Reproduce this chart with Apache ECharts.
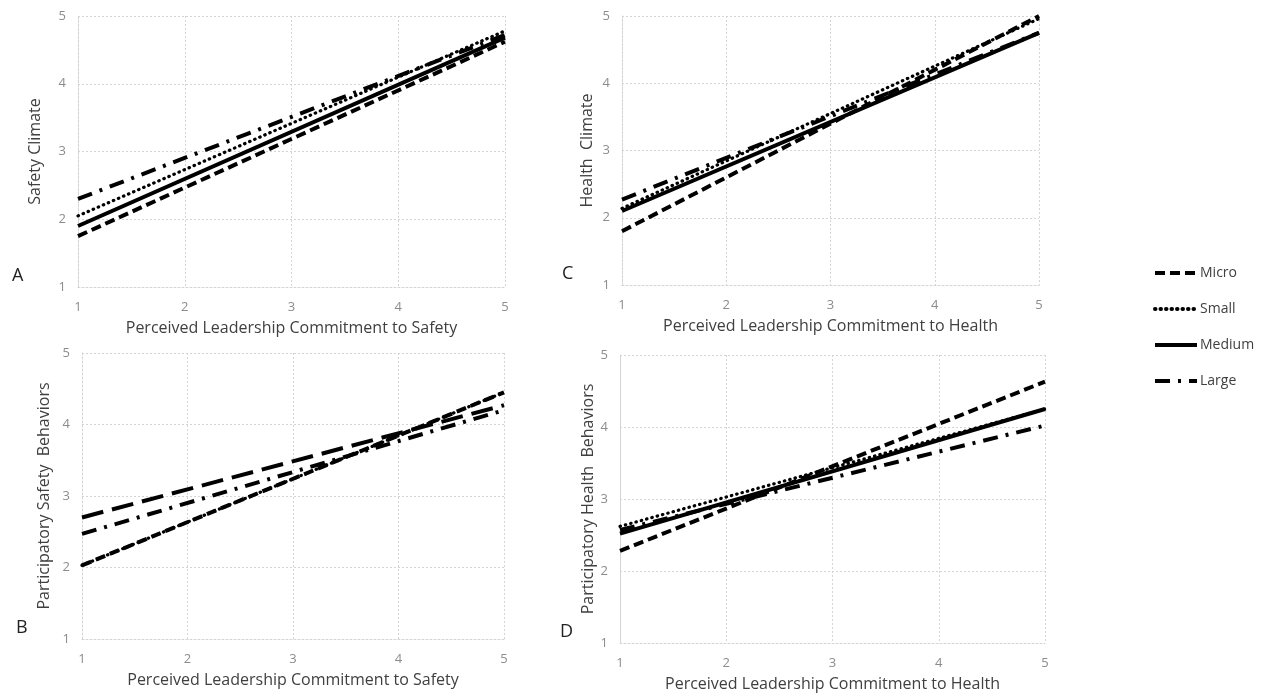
<!DOCTYPE html>
<html><head><meta charset="utf-8">
<script src="https://cdn.jsdelivr.net/npm/echarts@6/dist/echarts.min.js"></script>
<style>html,body{margin:0;padding:0;background:#fff}#c{width:1268px;height:696px}</style>
</head><body><div id="c"></div>
<script>
// x positions of each fitted line (low / high leadership commitment)
const xs = [1, 5];
const sizes = ['Micro', 'Small', 'Medium', 'Large'];
const ticks = [1, 2, 3, 4, 5];

// Panel A: Safety Climate
const A_micro = [1.75, 4.62];
const A_small = [2.05, 4.78];
const A_medium = [1.9, 4.68];
const A_large = [2.3, 4.72];
// Panel B: Participatory Safety Behaviors
const B_micro = [2.03, 4.45];
const B_small = [2.03, 4.45];
const B_medium = [2.7, 4.27];
const B_large = [2.47, 4.2];
// Panel C: Health Climate
const C_micro = [1.8, 5.0];
const C_small = [2.14, 4.96];
const C_medium = [2.1, 4.75];
const C_large = [2.27, 4.75];
// Panel D: Participatory Health Behaviors
const D_micro = [2.28, 4.63];
const D_small = [2.62, 4.25];
const D_medium = [2.52, 4.25];
const D_large = [2.57, 4.02];

const panels = [
  {letter:'A', yName:'Safety Climate', xName:'Perceived Leadership Commitment to Safety', data:[A_micro,A_small,A_medium,A_large],
   grid:{left:78, top:16, width:427, height:271}, yGap:35},
  {letter:'C', yName:'Health  Climate', xName:'Perceived Leadership Commitment to Health', data:[C_micro,C_small,C_medium,C_large],
   grid:{left:622, top:16, width:417, height:269}, yGap:27},
  {letter:'B', yName:'Participatory Safety  Behaviors', xName:'Perceived Leadership Commitment to Safety', data:[B_micro,B_small,B_medium,B_large],
   grid:{left:82, top:353, width:422, height:286}, yGap:30, mediumDash:true},
  {letter:'D', yName:'Participatory Health  Behaviors', xName:'Perceived Leadership Commitment to Health', data:[D_micro,D_small,D_medium,D_large],
   grid:{left:620, top:355, width:425, height:288}, yGap:23}
];

const styles = {
  Micro: {width:4, type:[10,5]},
  Small: {width:3.2, type:[0.5,5], cap:'round'},
  Medium: {width:4, type:'solid'},
  Large: {width:4, type:[15,8,3,8]}
};

const FONT = 'Open Sans';
const grids = [], xAxes = [], yAxes = [], series = [], graphics = [];
panels.forEach((p, i) => {
  grids.push(Object.assign({containLabel:false}, p.grid));
  const gl = {show:true, lineStyle:{color:'#d4d4d4', type:[2,2], width:1}};
  xAxes.push({type:'value', gridIndex:i, min:1, max:5, interval:1,
    name:p.xName, nameLocation:'middle', nameGap:33,
    nameTextStyle:{fontFamily:FONT, fontSize:16, color:'#404040'},
    axisLine:{show:true, lineStyle:{color:'#d4d4d4', type:[2,2]}}, axisTick:{show:false},
    axisLabel:{fontFamily:FONT, fontSize:13, color:'#8c8c8c', margin:14},
    splitLine:gl});
  yAxes.push({type:'value', gridIndex:i, min:1, max:5, interval:1,
    name:p.yName, nameLocation:'middle', nameGap:p.yGap, nameRotate:90,
    nameTextStyle:{fontFamily:FONT, fontSize:16, color:'#404040'},
    axisLine:{show:true, lineStyle:{color:'#d4d4d4', type:[2,2]}}, axisTick:{show:false},
    axisLabel:{fontFamily:FONT, fontSize:13, color:'#8c8c8c', margin:12},
    splitLine:gl});
  sizes.forEach((s, k) => {
    let ls = Object.assign({color:'#000'}, styles[s]);
    if (p.mediumDash && s === 'Medium') ls = {color:'#000', width:4, type:[22,9]};
    series.push({type:'line', name:s, xAxisIndex:i, yAxisIndex:i, symbol:'none', silent:true,
      color:'#000', itemStyle:{color:'#000'},
      lineStyle:ls, data:xs.map((x, j) => [x, p.data[k][j]]), z:10-k});
  });
  graphics.push({type:'text', left:p.grid.left - (i%2===0 ? 66 : 60), top:p.grid.top + p.grid.height - 20,
    style:{text:p.letter, font:'18px ' + FONT, fill:'#222'}});
});

const chart = echarts.init(document.getElementById('c'));
chart.setOption({
  animation:false,
  color:['#000'],
  grid:grids, xAxis:xAxes, yAxis:yAxes, series:series,
  legend:{orient:'vertical', left:1148, top:261, itemWidth:42, itemHeight:14, itemGap:22,
    itemStyle:{opacity:0}, lineStyle:{width:4},
    data:sizes, textStyle:{fontFamily:FONT, fontSize:14, color:'#404040', padding:[0,0,0,-2]}},
  graphic:graphics
});
</script></body></html>
